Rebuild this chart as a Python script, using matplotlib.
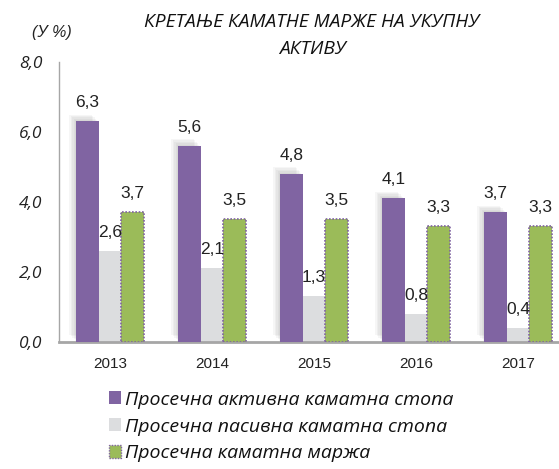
import matplotlib
matplotlib.use("Agg")
import matplotlib.pyplot as plt
import matplotlib.patheffects as pe
from matplotlib.patches import Patch
import numpy as np

years = ["2013", "2014", "2015", "2016", "2017"]
active = [6.3, 5.6, 4.8, 4.1, 3.7]
passive = [2.6, 2.1, 1.3, 0.8, 0.4]
margin = [3.7, 3.5, 3.5, 3.3, 3.3]
labels = ["Просечна активна каматна стопа",
          "Просечна пасивна каматна стопа",
          "Просечна каматна маржа"]
yticks = [0, 2, 4, 6, 8]

c_act = "#8064a2"
c_pas = "#dcdddf"
c_mar = "#9bbb59"

W, H = 559, 469
fig = plt.figure(figsize=(W / 100, H / 100), dpi=100)
ax_left, ax_bottom, ax_top = 59, 342, 62
ax_w = 510
ax = fig.add_axes([ax_left / W, 1 - ax_bottom / H, ax_w / W, (ax_bottom - ax_top) / H])

x = np.arange(len(years))
w = 0.22
shadow = [pe.SimplePatchShadow(offset=(-d, d), shadow_rgbFace="#808080", alpha=0.07)
          for d in (5, 4, 3, 2, 1)] + [pe.Normal()]
b1 = ax.bar(x - w, active, w, color=c_act, zorder=3, path_effects=shadow)
b2 = ax.bar(x, passive, w, color=c_pas, zorder=2)
b3 = ax.bar(x + w, margin, w, color=c_mar, edgecolor=c_act, linestyle=(0, (1, 1)),
            linewidth=1.2, zorder=3)

lab_font = dict(family=["Liberation Sans Narrow", "Liberation Sans"], fontsize=12.5, color="#222222")
def fmt(v):
    return f"{v:.1f}".replace(".", ",")
for xs, vals in ((x - w, active), (x, passive), (x + w, margin)):
    for xi, v in zip(xs, vals):
        ax.annotate(fmt(v), (xi, v), xytext=(0, 8), textcoords="offset points",
                    ha="center", va="bottom", **lab_font)

ax.set_xlim(-0.5, 4.5)
ax.set_ylim(0, 8)
ax.set_yticks(yticks)
ax.set_yticklabels([fmt(t) for t in yticks], fontstyle="italic",
                   family=["Open Sans", "DejaVu Sans"], fontsize=12.5, color="#222222")
ax.set_xticks(x)
ax.set_xticklabels(years, family=["Liberation Sans"], fontsize=11, color="#222222")
ax.tick_params(axis="both", length=0)
ax.tick_params(axis="y", pad=12)
ax.tick_params(axis="x", pad=11)
for s in ("top", "right"):
    ax.spines[s].set_visible(False)
ax.spines["left"].set_color("#a6a6a6")
ax.spines["left"].set_linewidth(1.0)
ax.spines["bottom"].set_color("#a6a6a6")
ax.spines["bottom"].set_linewidth(2.0)
ax.set_facecolor("none")

title_font = dict(family=["Open Sans", "DejaVu Sans"], fontstyle="italic", fontsize=13.8, color="#111111")
fig.text(312 / W, 1 - 22 / H, "КРЕТАЊЕ КАМАТНЕ МАРЖЕ НА УКУПНУ", ha="center", va="center", **title_font)
fig.text(312 / W, 1 - 49 / H, "АКТИВУ", ha="center", va="center", **title_font)
fig.text(52 / W, 1 - 33 / H, "(У %)", ha="center", va="center",
         family=["Liberation Sans"], fontstyle="italic", fontsize=11.5, color="#222222")

handles = [Patch(facecolor=c_act), Patch(facecolor=c_pas),
           Patch(facecolor=c_mar, edgecolor=c_act, linestyle=(0, (1, 1)), linewidth=1.0)]
leg = fig.legend(handles, labels, loc="upper left", bbox_to_anchor=(101 / W, 1 - 383 / H),
                 frameon=False, handlelength=0.65, handleheight=0.65, handletextpad=0.2,
                 labelspacing=0.45, borderaxespad=0,
                 prop=dict(family=["Open Sans", "DejaVu Sans"], style="italic", size=14))
for t in leg.get_texts():
    t.set_color("#111111")

fig.savefig("out.png", dpi=100)
